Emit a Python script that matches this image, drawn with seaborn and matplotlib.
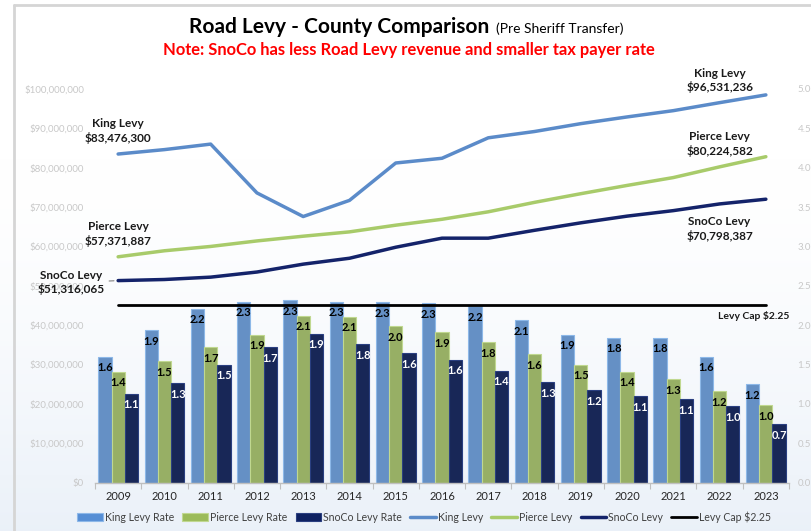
import numpy as np
import pandas as pd
import matplotlib.pyplot as plt
import seaborn as sns
from matplotlib.patches import Patch
from matplotlib.lines import Line2D
from matplotlib.ticker import FuncFormatter, MultipleLocator, FixedLocator

# data
years = list(range(2009, 2024))
king_rate = [1.60, 1.94, 2.21, 2.30, 2.32, 2.30, 2.29, 2.28, 2.24, 2.06, 1.88, 1.84, 1.84, 1.60, 1.25]
pierce_rate = [1.41, 1.54, 1.72, 1.88, 2.12, 2.11, 1.99, 1.91, 1.78, 1.63, 1.50, 1.41, 1.31, 1.16, 0.98]
snoco_rate = [1.13, 1.26, 1.50, 1.72, 1.89, 1.76, 1.64, 1.56, 1.42, 1.28, 1.17, 1.10, 1.06, 0.97, 0.74]
# levy in millions of dollars
king_levy = [83.48, 84.6, 86.0, 73.6, 67.6, 71.7, 81.2, 82.4, 87.6, 89.2, 91.2, 92.9, 94.5, 96.53, 98.5]
pierce_levy = [57.37, 58.9, 60.0, 61.4, 62.6, 63.7, 65.4, 66.9, 68.8, 71.2, 73.4, 75.5, 77.5, 80.22, 82.8]
snoco_levy = [51.32, 51.6, 52.2, 53.5, 55.5, 57.0, 59.8, 62.1, 62.1, 64.1, 66.0, 67.7, 69.1, 70.80, 72.0]
levy_cap = 2.25
counties = ['King', 'Pierce', 'SnoCo']

bar_colors = ['#558ED5', '#9BBB59', '#0E2161']
bar_edges = ['#8DB8E8', '#C0D890', '#2A3F80']
line_colors = ['#5B8BC9', '#A8CB6A', '#14236A']

rates = pd.DataFrame({'Year': years, 'King': king_rate, 'Pierce': pierce_rate, 'SnoCo': snoco_rate})
rates = rates.melt(id_vars='Year', var_name='County', value_name='Rate')
levy = pd.DataFrame({'Year': years, 'King': king_levy, 'Pierce': pierce_levy, 'SnoCo': snoco_levy})
levy = levy.melt(id_vars='Year', var_name='County', value_name='Levy')

sns.set_theme(style='white')
plt.rcParams['font.family'] = ['Lato', 'DejaVu Sans']

fig = plt.figure(figsize=(8.11, 5.31), dpi=100)

# faint background gradient
bg = fig.add_axes([0, 0, 1, 1], zorder=-10)
grad = np.linspace(0, 1, 256).reshape(-1, 1)
grad = np.clip((grad - 0.3) / 0.7, 0, 1) ** 1.5
c_top = np.array([1.0, 1.0, 1.0])
c_bot = np.array([0.92, 0.945, 0.975])
img = c_top + grad[..., None] * (c_bot - c_top)
bg.imshow(img, aspect='auto', extent=[0, 1, 0, 1])
bg.axis('off')

fig.add_artist(Line2D([14 / 811, 14 / 811], [0, 1 - 5 / 531], transform=fig.transFigure, color='#D5D5D5', lw=2))
fig.add_artist(Line2D([14 / 811, 1], [1 - 5 / 531, 1 - 5 / 531], transform=fig.transFigure, color='#D5D5D5', lw=2))

ax = fig.add_axes([95 / 811, 1 - 482.6 / 531, 694 / 811, 393.6 / 531])
ax.patch.set_alpha(0)

sns.barplot(data=rates, x='Year', y='Rate', hue='County', hue_order=counties, native_scale=True,
            palette=bar_colors, width=0.86, errorbar=None, legend=False, ax=ax, linewidth=0.8)
for cont, ec in zip(ax.containers, bar_edges):
    for p in cont:
        p.set_edgecolor(ec)

label_colors = ['black', 'black', 'white']
for cont, lc in zip(ax.containers, label_colors):
    ax.bar_label(cont, fmt='%.1f', padding=-12, color=lc, fontsize=8, fontweight='bold')

sns.lineplot(x=years, y=[levy_cap] * len(years), color='black', linewidth=2, ax=ax, zorder=5)
ax.annotate('Levy Cap $2.25', xy=(2023, levy_cap), xytext=(-9, -7.5), textcoords='offset points',
            ha='center', va='center', fontsize=7.5, fontweight='bold', color='#1a1a1a')

ax.set_xlim(2008.5, 2023.5)
ax.set_ylim(0, 5)
ax.set_xlabel('')
ax.set_ylabel('')

ax2 = ax.twinx()
sns.lineplot(data=levy, x='Year', y='Levy', hue='County', hue_order=counties, palette=line_colors,
             linewidth=2.5, legend=False, ax=ax2)
ax2.set_ylim(0, 100)
ax2.set_xlim(2008.5, 2023.5)
ax2.set_xlabel('')
ax2.set_ylabel('')

# line labels
ann = dict(textcoords='offset points', ha='center', va='center', fontsize=8.5, fontweight='bold',
           color='#1a1a1a', linespacing=1.25)
ax2.annotate('King Levy\n$83,476,300', xy=(2009, king_levy[0]), xytext=(0, 16.5), **ann)
ax2.annotate('Pierce Levy\n$57,371,887', xy=(2009, pierce_levy[0]), xytext=(0, 16.5), **ann)
ax2.annotate('SnoCo Levy\n$51,316,065', xy=(2009, snoco_levy[0]), xytext=(-34, -1.5),
             arrowprops=dict(arrowstyle='-', color='#808080', lw=0.8, shrinkA=1, shrinkB=3), **ann)
ax2.annotate('King Levy\n$96,531,236', xy=(2022, king_levy[13]), xytext=(0, 16), **ann)
ax2.annotate('Pierce Levy\n$80,224,582', xy=(2022, pierce_levy[13]), xytext=(0, 16.5), **ann)
ax2.annotate('SnoCo Levy\n$70,798,387', xy=(2022, snoco_levy[13]), xytext=(0, -18), **ann)

# axes styling
ax.yaxis.tick_right()
ax2.yaxis.tick_left()
ax.yaxis.set_major_locator(MultipleLocator(0.5))
ax.yaxis.set_major_formatter(FuncFormatter(lambda v, p: f'{v:.1f}'))
ax2.yaxis.set_major_locator(MultipleLocator(10))
ax2.yaxis.set_major_formatter(FuncFormatter(lambda v, p: f'${v * 1e6:,.0f}'))
ax.tick_params(axis='y', length=0, pad=6, labelsize=7, labelcolor='#C8C8C8')
ax2.tick_params(axis='y', length=0, pad=8, labelsize=7, labelcolor='#C8C8C8')

ax.xaxis.set_major_locator(FixedLocator(years))
ax.set_xticklabels([str(y) for y in years])
ax.xaxis.set_minor_locator(FixedLocator([y - 0.5 for y in years] + [2023.5]))
ax.tick_params(axis='x', which='major', length=0, pad=6, labelsize=8, labelcolor='#262626')
ax.tick_params(axis='x', which='minor', length=4, width=0.8, color='#BFBFBF', bottom=True)
ax2.tick_params(axis='x', which='both', length=0, labelbottom=False)

for s in ['top', 'left', 'right']:
    ax.spines[s].set_visible(False)
for s in ax2.spines.values():
    s.set_visible(False)
ax.spines['bottom'].set_color('#BFBFBF')
ax.spines['bottom'].set_linewidth(1)

# titles
fig.text(489 / 811, 1 - 33 / 531, 'Road Levy - County Comparison', ha='right', va='baseline',
         fontsize=15, fontweight='bold', color='black')
fig.text(496 / 811, 1 - 33 / 531, '(Pre Sheriff Transfer)', ha='left', va='baseline',
         fontsize=10, color='black')
fig.text(409 / 811, 1 - 50 / 531, 'Note: SnoCo has less Road Levy revenue and smaller tax payer rate',
         ha='center', va='center', fontsize=11.9, fontweight='bold', color='#FF0000')

# legend
handles = [Patch(facecolor=c, edgecolor=e, lw=0.8) for c, e in zip(bar_colors, bar_edges)]
handles += [Line2D([0], [0], color=c, lw=2.5) for c in line_colors]
handles += [Line2D([0], [0], color='black', lw=2)]
labels = ['King Levy Rate', 'Pierce Levy Rate', 'SnoCo Levy Rate', 'King Levy', 'Pierce Levy',
          'SnoCo Levy', 'Levy Cap $2.25']
fig.legend(handles, labels, loc='center', bbox_to_anchor=(424 / 811, 1 - 517 / 531), ncol=7,
           frameon=False, fontsize=7.6, handlelength=2.4, handleheight=0.9, columnspacing=0.8,
           handletextpad=0.2, labelcolor='#404040')

fig.savefig('out.png', dpi=100)
